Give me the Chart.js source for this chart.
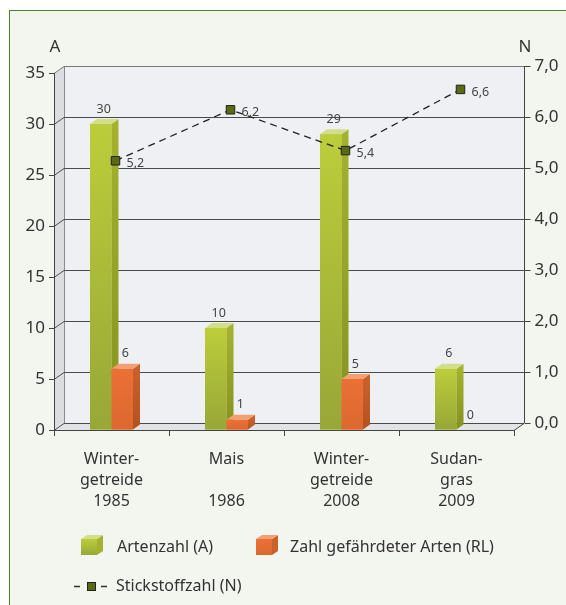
<!DOCTYPE html>
<html>
<head>
<meta charset="utf-8">
<script src="https://cdn.jsdelivr.net/npm/chart.js@4.4.1/dist/chart.umd.min.js"></script>
<style>
  html, body { margin: 0; padding: 0; background: #fff; }
  #wrap { position: relative; width: 566px; height: 605px; overflow: hidden; }
  #frame { position: absolute; left: 9px; top: 10px; width: 640px; height: 660px;
           border-left: 1.5px solid #4f7f22; border-top: 1.5px solid #4f7f22;
           background: #f3f5ef; box-sizing: border-box; }
  canvas { position: absolute; left: 0; top: 0; }
</style>
</head>
<body>
<div id="wrap">
  <div id="frame"></div>
  <canvas id="chart" width="566" height="605"></canvas>
</div>
<script>
  /* ---------- Daten ---------- */
  const categories = [["Winter-", "getreide", "1985"], ["Mais", "", "1986"], ["Winter-", "getreide", "2008"], ["Sudan-", "gras", "2009"]];
  const artenzahl = [30, 10, 29, 6];
  const gefaehrdet = [6, 1, 5, 0];
  const stickstoff = [5.2, 6.2, 5.4, 6.6];
  const seriesNames = ["Artenzahl (A)", "Zahl gefährdeter Arten (RL)", "Stickstoffzahl (N)"];
  const axisTitles = ["A", "N"];

  const FONT = "'Noto Sans', 'DejaVu Sans', sans-serif";
  const DX = 10, DY = -7;      // Tiefe der Rückwand
  const BX = 7, BY = -5;       // Tiefe der Balken
  const LX = 4, LY = -4;       // Ebene der Linie

  const barColors = [
    { top: "#d3de8a", f1: "#bccd3b", f2: "#98a737", s1: "#a4b22f", s2: "#84921f" },
    { top: "#f2a073", f1: "#eb7036", f2: "#dc6830", s1: "#c9612c", s2: "#b3521f" }
  ];

  function comma(v) { return v.toFixed(1).replace(".", ","); }

  function poly(ctx, pts, fill) {
    ctx.beginPath();
    ctx.moveTo(pts[0][0], pts[0][1]);
    for (let i = 1; i < pts.length; i++) ctx.lineTo(pts[i][0], pts[i][1]);
    ctx.closePath();
    ctx.fillStyle = fill;
    ctx.fill();
  }

  function drawCube(ctx, x, y, s, c) {
    const d = 6, e = -4;
    poly(ctx, [[x + s, y], [x + s + d, y + e], [x + s + d, y + s + e], [x + s, y + s]], c.s1);
    poly(ctx, [[x, y], [x + d, y + e], [x + s + d, y + e], [x + s, y]], c.top);
    const g = ctx.createLinearGradient(0, y, 0, y + s);
    g.addColorStop(0, c.f1); g.addColorStop(1, c.f2);
    ctx.fillStyle = g;
    ctx.fillRect(x, y, s, s);
  }

  // alle Balken als Quader zeichnen: erst Artenzahl, dann gefährdete Arten
  function drawBars(chart) {
    const ctx = chart.ctx;
    ctx.save();
    [0, 1].forEach(di => {
      const ds = chart.data.datasets[di];
      const c = barColors[di];
      chart.getDatasetMeta(di).data.forEach((el, i) => {
        const { x, y, base, width } = el.getProps(["x", "y", "base", "width"], true);
        const l = x - width / 2, r = x + width / 2;
        if (ds.data[i] > 0) {
          const gs = ctx.createLinearGradient(0, y, 0, base);
          gs.addColorStop(0, c.s1); gs.addColorStop(1, c.s2);
          poly(ctx, [[r, y], [r + BX, y + BY], [r + BX, base + BY], [r, base]], gs);
          poly(ctx, [[l, y], [l + BX, y + BY], [r + BX, y + BY], [r, y]], c.top);
          const g = ctx.createLinearGradient(0, y, 0, base);
          g.addColorStop(0, c.f1); g.addColorStop(1, c.f2);
          ctx.fillStyle = g;
          ctx.fillRect(l, y, width, base - y);
        }
        ctx.fillStyle = "#444";
        ctx.font = "12.5px " + FONT;
        ctx.textAlign = "center";
        ctx.textBaseline = "middle";
        ctx.fillText(String(ds.data[i]), x + 3, y - 15);
      });
    });
    ctx.restore();
  }

  /* ---------- 3D-Plugin ---------- */
  const threeD = {
    id: "threeD",
    beforeDraw(chart) {
      const { ctx, chartArea: a, scales: { y } } = chart;
      ctx.save();
      ctx.fillStyle = "#eff0f3";
      ctx.fillRect(a.left + DX, a.top + DY, a.right - a.left, a.bottom - a.top);
      poly(ctx, [[a.left, a.top], [a.left + DX, a.top + DY], [a.left + DX, a.bottom + DY], [a.left, a.bottom]], "#dcdde1");
      poly(ctx, [[a.left, a.bottom], [a.right, a.bottom], [a.right + DX, a.bottom + DY], [a.left + DX, a.bottom + DY]], "#e2e3e6");

      ctx.lineWidth = 1;
      ctx.strokeStyle = "#8a8a8a";
      ctx.beginPath();
      ctx.moveTo(a.left + DX + 0.5, a.top + DY);
      ctx.lineTo(a.left + DX + 0.5, a.bottom + DY);
      ctx.stroke();

      y.ticks.forEach(t => {
        const py = Math.round(y.getPixelForValue(t.value)) + 0.5;
        ctx.strokeStyle = t.value === 35 ? "#7a7a7a" : "#4a4a4a";
        ctx.beginPath();
        ctx.moveTo(a.left, py);
        ctx.lineTo(a.left + DX, py + DY);
        ctx.lineTo(a.right + DX, py + DY);
        ctx.stroke();
      });

      ctx.strokeStyle = "#444";
      ctx.beginPath();
      ctx.moveTo(a.right, a.bottom + 0.5);
      ctx.lineTo(a.right + DX, a.bottom + DY + 0.5);
      ctx.stroke();
      ctx.restore();
    },
    beforeDatasetDraw(chart, args) {
      if (chart.data.datasets[args.index].type === "line") {
        chart.ctx.save();
        chart.ctx.translate(LX, LY);
      }
    },
    afterDatasetDraw(chart, args) {
      const ctx = chart.ctx;
      const ds = chart.data.datasets[args.index];
      if (ds.type === "line") {
        ctx.fillStyle = "#444";
        ctx.font = "12.5px " + FONT;
        ctx.textAlign = "left";
        ctx.textBaseline = "middle";
        args.meta.data.forEach((pt, i) => {
          ctx.fillText(comma(ds.data[i]), pt.x + 11, pt.y + 3);
        });
        ctx.restore();
      } else if (args.index === 0) {
        // Artenzahl wird als letzter Balken-Datensatz gezeichnet
        drawBars(chart);
      }
    },
    afterDraw(chart) {
      const { ctx, chartArea: a, scales: { y2 } } = chart;
      ctx.save();
      // rechte Achse (N) an der Rückwand
      const xr = a.right + DX + 0.5;
      ctx.strokeStyle = "#444";
      ctx.lineWidth = 1;
      ctx.beginPath();
      ctx.moveTo(xr, y2.getPixelForValue(0) + DY);
      ctx.lineTo(xr, y2.getPixelForValue(7) + DY);
      ctx.stroke();
      ctx.fillStyle = "#333";
      ctx.font = "17px " + FONT;
      ctx.textAlign = "left";
      ctx.textBaseline = "middle";
      y2.ticks.forEach(t => {
        const py = Math.round(y2.getPixelForValue(t.value) + DY) + 0.5;
        ctx.beginPath();
        ctx.moveTo(xr, py);
        ctx.lineTo(xr + 6, py);
        ctx.stroke();
        ctx.fillText(comma(t.value), xr + 10, py);
      });
      // Achsentitel
      ctx.textAlign = "center";
      ctx.fillText(axisTitles[0], 55, 47);
      ctx.fillText(axisTitles[1], 525, 47);

      // Legende
      ctx.font = "16px " + FONT;
      ctx.textAlign = "left";
      drawCube(ctx, 81, 539, 16, barColors[0]);
      ctx.fillStyle = "#333";
      ctx.fillText(seriesNames[0], 117, 547);
      drawCube(ctx, 256, 539, 16, barColors[1]);
      ctx.fillStyle = "#333";
      ctx.fillText(seriesNames[1], 290, 547);

      ctx.strokeStyle = "#333";
      ctx.lineWidth = 1.3;
      ctx.beginPath();
      ctx.moveTo(74, 586.5); ctx.lineTo(80, 586.5);
      ctx.moveTo(101, 586.5); ctx.lineTo(107, 586.5);
      ctx.stroke();
      ctx.fillStyle = "#5b6a10";
      ctx.fillRect(87, 582, 9, 9);
      ctx.lineWidth = 1;
      ctx.strokeStyle = "#222";
      ctx.strokeRect(87.5, 582.5, 8, 8);
      ctx.fillStyle = "#333";
      ctx.fillText(seriesNames[2], 116, 586);
      ctx.restore();
    }
  };

  /* ---------- Chart ---------- */
  new Chart(document.getElementById("chart"), {
    type: "bar",
    data: {
      labels: categories,
      datasets: [
        { type: "bar", label: seriesNames[0], data: artenzahl, yAxisID: "y", order: 1,
          backgroundColor: "#b0c13a", borderWidth: 0, categoryPercentage: 0.374, barPercentage: 1 },
        { type: "bar", label: seriesNames[1], data: gefaehrdet, yAxisID: "y", order: 1,
          backgroundColor: "#e66d33", borderWidth: 0, categoryPercentage: 0.374, barPercentage: 1 },
        { type: "line", label: seriesNames[2], data: stickstoff, yAxisID: "y2", order: 0,
          borderColor: "#222", borderWidth: 1.3, borderDash: [7, 5], tension: 0,
          pointStyle: "rect", pointRadius: 6, pointBackgroundColor: "#5b6a10",
          pointBorderColor: "#222", pointBorderWidth: 1, fill: false }
      ]
    },
    options: {
      responsive: false,
      animation: false,
      devicePixelRatio: 1,
      layout: { padding: { left: 4, right: 52, top: 73, bottom: 85 } },
      plugins: { legend: { display: false }, tooltip: { enabled: false } },
      scales: {
        x: {
          afterFit(scale) { scale.height = 90; },
          grid: { offset: true, drawOnChartArea: false, tickLength: 6, tickColor: "#444" },
          border: { color: "#444", width: 1 },
          ticks: { color: "#333", font: { family: FONT, size: 16, lineHeight: 1.3 }, padding: 13, maxRotation: 0, autoSkip: false }
        },
        y: {
          position: "left", min: 0, max: 35,
          afterFit(scale) { scale.width = 50; },
          grid: { drawOnChartArea: false, tickLength: 5, tickColor: "#444" },
          border: { color: "#444", width: 1 },
          ticks: { stepSize: 5, color: "#333", font: { family: FONT, size: 17 }, padding: 4 }
        },
        y2: {
          position: "right", display: false, min: 0, max: 7,
          ticks: { stepSize: 1 }
        }
      }
    },
    plugins: [threeD]
  });
</script>
</body>
</html>
